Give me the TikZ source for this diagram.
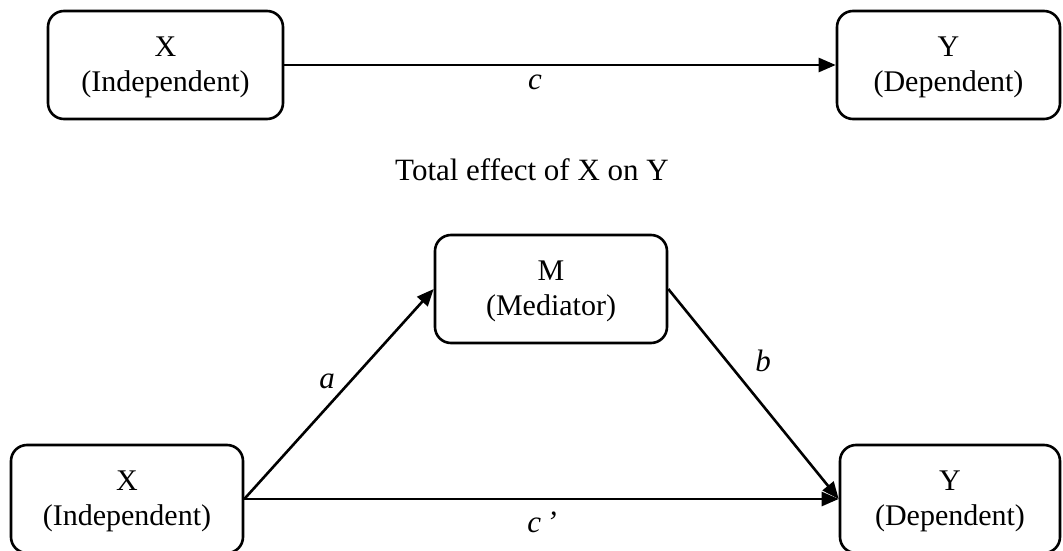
\documentclass[tikz,border=0pt]{standalone}
\usepackage{fontspec}
\setmainfont{Liberation Serif}
\usetikzlibrary{arrows.meta}
\begin{document}
\begin{tikzpicture}[x=1pt,y=-1pt,
  box/.style={draw,line width=2.6pt,rounded corners=16pt,align=center,inner sep=0pt,
    font=\fontsize{30}{35}\selectfont},
  conn/.style={line width=2.6pt,-{Triangle[length=17pt,width=14pt]}},
  lab/.style={font=\fontsize{31}{34}\selectfont\itshape,inner sep=0pt}]
\useasboundingbox (0,0) rectangle (1063,551);
\node[box,minimum width=235pt,minimum height=108pt] (tx) at (165.5,65) {\strut X\\(Independent)};
\node[box,minimum width=223pt,minimum height=108pt] (ty) at (948.5,65) {\strut Y\\(Dependent)};
\draw[conn] (tx.east) -- (ty.west);
\node[lab] (lc) at (535,82) {c};
\node[font=\fontsize{31}{34}\selectfont,anchor=base] (title) at (532,180) {Total effect of X on Y};
\node[box,minimum width=232pt,minimum height=108pt] (m) at (551,289) {\strut M\\(Mediator)};
\node[box,minimum width=232pt,minimum height=108pt] (bx) at (127,499) {\strut X\\(Independent)};
\node[box,minimum width=220pt,minimum height=108pt] (by) at (950,499) {\strut Y\\(Dependent)};
\draw[conn] (bx.east) -- (m.west);
\draw[conn] (m.east) -- (by.west);
\draw[conn] (bx.east) -- (by.west);
\node[lab] (la) at (327,381) {a};
\node[lab] (lb) at (763,361) {b};
\node[lab] (lcp) at (542,522) {c\,’};
\end{tikzpicture}
\end{document}
